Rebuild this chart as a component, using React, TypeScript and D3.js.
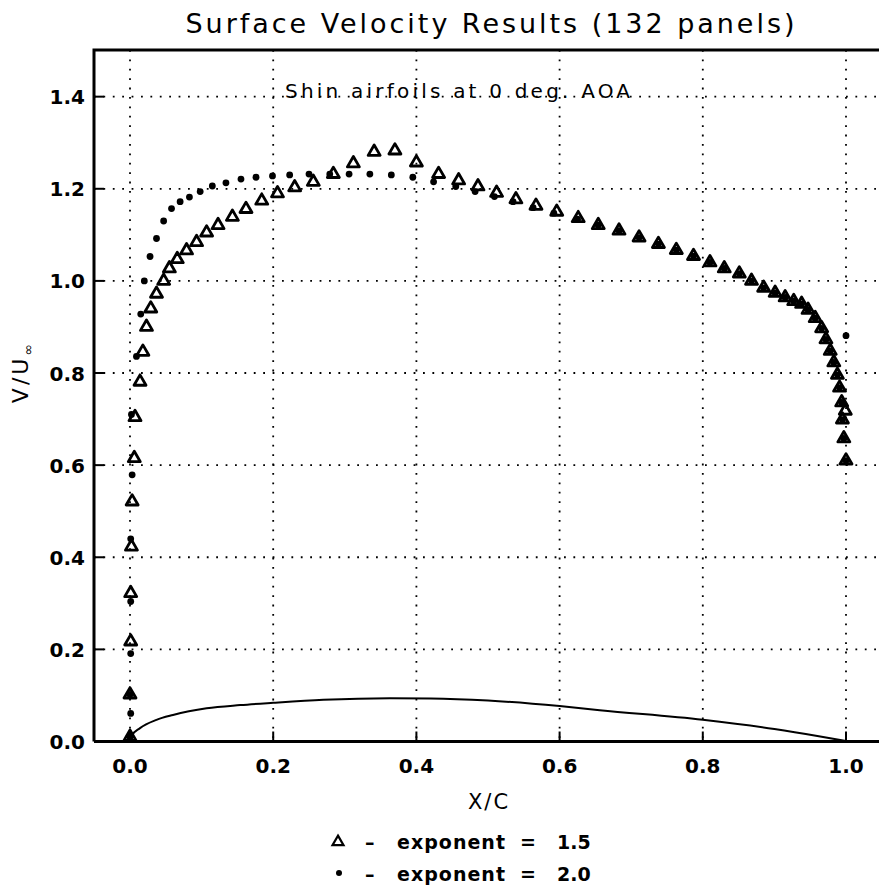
import React from "react";
import * as d3 from "d3";

// ---- data ----
const triX = [0.000, 0.000, 0.001, 0.001, 0.002, 0.003, 0.006, 0.007, 0.014, 0.018, 0.023, 0.029, 0.037, 0.047, 0.055, 0.066, 0.079, 0.093, 0.107, 0.123, 0.143, 0.162, 0.184, 0.206, 0.230, 0.256, 0.284, 0.312, 0.341, 0.370, 0.400, 0.431, 0.459, 0.486, 0.512, 0.539, 0.567, 0.596, 0.626, 0.654, 0.683, 0.711, 0.738, 0.763, 0.787, 0.810, 0.830, 0.851, 0.868, 0.885, 0.901, 0.915, 0.927, 0.938, 0.947, 0.957, 0.966, 0.972, 0.978, 0.983, 0.988, 0.991, 0.994, 0.999, 0.995, 0.997, 1.000];
const triV = [0.010, 0.102, 0.217, 0.322, 0.423, 0.521, 0.615, 0.704, 0.781, 0.846, 0.900, 0.940, 0.972, 1.000, 1.027, 1.047, 1.066, 1.084, 1.105, 1.121, 1.139, 1.156, 1.174, 1.190, 1.203, 1.215, 1.232, 1.255, 1.280, 1.283, 1.257, 1.232, 1.218, 1.205, 1.191, 1.177, 1.163, 1.150, 1.136, 1.121, 1.109, 1.094, 1.080, 1.067, 1.054, 1.040, 1.027, 1.016, 1.000, 0.985, 0.974, 0.964, 0.956, 0.950, 0.937, 0.919, 0.897, 0.873, 0.848, 0.823, 0.796, 0.768, 0.736, 0.718, 0.699, 0.658, 0.610];

const dotX = [0.000, 0.001, 0.000, 0.001, 0.001, 0.001, 0.003, 0.002, 0.009, 0.015, 0.020, 0.028, 0.037, 0.047, 0.058, 0.070, 0.083, 0.098, 0.115, 0.134, 0.155, 0.176, 0.199, 0.223, 0.250, 0.279, 0.306, 0.335, 0.365, 0.395, 0.424, 0.455, 0.482, 0.509, 0.535, 0.563, 0.592, 0.625, 0.654, 0.683, 0.711, 0.738, 0.763, 0.787, 0.810, 0.830, 0.851, 0.868, 0.885, 0.901, 0.915, 0.927, 0.938, 0.947, 0.957, 0.966, 0.972, 0.978, 0.983, 0.988, 0.991, 0.994, 0.995, 0.997, 1.000, 1.000];
const dotV = [0.010, 0.061, 0.102, 0.191, 0.304, 0.440, 0.579, 0.710, 0.836, 0.928, 1.000, 1.053, 1.092, 1.130, 1.157, 1.172, 1.182, 1.194, 1.206, 1.213, 1.221, 1.225, 1.228, 1.230, 1.232, 1.232, 1.232, 1.232, 1.230, 1.225, 1.215, 1.205, 1.194, 1.183, 1.172, 1.159, 1.147, 1.134, 1.121, 1.109, 1.094, 1.080, 1.067, 1.054, 1.040, 1.027, 1.016, 1.000, 0.985, 0.974, 0.964, 0.956, 0.950, 0.937, 0.919, 0.897, 0.873, 0.848, 0.823, 0.796, 0.768, 0.736, 0.699, 0.658, 0.610, 0.881];

const foilX = [0, 0.002, 0.014, 0.037, 0.06, 0.107, 0.154, 0.2, 0.27, 0.363, 0.42, 0.5, 0.6, 0.656, 0.8, 0.9, 0.96, 1.0];
const foilY = [0, 0.012, 0.029, 0.047, 0.0575, 0.072, 0.079, 0.084, 0.0905, 0.094, 0.0935, 0.089, 0.077, 0.068, 0.047, 0.027, 0.012, 0.001];

const xTicks = [0, 0.2, 0.4, 0.6, 0.8, 1.0];
const yTicks = [0.2, 0.4, 0.6, 0.8, 1.0, 1.2, 1.4];
const yLabelTicks = [0, 0.2, 0.4, 0.6, 0.8, 1.0, 1.2, 1.4];
const legendValues = ["1.5", "2.0"];

const W = 879, H = 888;
const left = 94, top = 50, bottom = 741.5, right = 881;

export default function App() {
  const x = d3.scaleLinear().domain([0, 1]).range([130, 846]);
  const y = d3.scaleLinear().domain([0, 1.5]).range([741.5, 50.6]);
  const fmt = d3.format(".1f");

  const foilLine = d3
    .line<number>()
    .x((_, i) => x(foilX[i]))
    .y((d) => y(d))
    .curve(d3.curveMonotoneX)(foilY) as string;

  const triPath = (side: number) => {
    const h = (side * Math.sqrt(3)) / 2;
    return `M0,${(-2 * h) / 3}L${side / 2},${h / 3}L${-side / 2},${h / 3}Z`;
  };
  const tri = triPath(12);

  const dotted = { stroke: "#000", strokeWidth: 1.8, strokeDasharray: "1.8 7.6", fill: "none" };
  const font = "'DejaVu Sans', sans-serif";

  return (
    <svg width={W} height={H} style={{ position: "absolute", left: 0, top: 0, background: "#fff" }}>
      <rect x={0} y={0} width={W} height={H} fill="#fff" />
      {/* title */}
      <text x={490} y={33} textAnchor="middle" fontFamily={font} fontSize={27} textLength={609} lengthAdjust="spacing">
        Surface Velocity Results (132 panels)
      </text>
      {/* grid */}
      {xTicks.map((t) => (
        <line key={"gx" + t} x1={x(t)} x2={x(t)} y1={top} y2={bottom} style={dotted} />
      ))}
      {yTicks.map((t) => (
        <line key={"gy" + t} x1={left} x2={W} y1={y(t)} y2={y(t)} style={dotted} />
      ))}
      {/* ticks */}
      {xTicks.map((t) => (
        <line key={"tx" + t} x1={x(t)} x2={x(t)} y1={bottom} y2={bottom - 10} stroke="#000" strokeWidth={2} />
      ))}
      {yTicks.map((t) => (
        <line key={"ty" + t} x1={left} x2={left + 10} y1={y(t)} y2={y(t)} stroke="#000" strokeWidth={2} />
      ))}
      {/* frame */}
      <path d={`M${left},${bottom}L${left},${top}L${right},${top}`} fill="none" stroke="#000" strokeWidth={3} />
      <line x1={left} x2={right} y1={bottom} y2={bottom} stroke="#000" strokeWidth={3} />
      {/* tick labels */}
      {xTicks.map((t) => (
        <text key={"lx" + t} x={x(t)} y={773} textAnchor="middle" fontFamily={font} fontWeight="bold" fontSize={20}>
          {fmt(t)}
        </text>
      ))}
      {yLabelTicks.map((t) => (
        <text key={"ly" + t} x={85} y={y(t) + 7.5} textAnchor="end" fontFamily={font} fontWeight="bold" fontSize={20}>
          {fmt(t)}
        </text>
      ))}
      {/* axis labels */}
      <text x={489} y={809} textAnchor="middle" fontFamily={font} fontSize={21} letterSpacing={2}>
        X/C
      </text>
      <text transform="translate(28,372) rotate(-90)" textAnchor="middle" fontFamily={font} fontSize={22} letterSpacing={3}>
        V/U<tspan fontSize={14} dy={5}>∞</tspan>
      </text>
      {/* annotation */}
      <text x={285} y={98} fontFamily={font} fontSize={20} textLength={345} lengthAdjust="spacing">
        Shin airfoils at 0 deg. AOA
      </text>
      {/* airfoil */}
      <path d={foilLine} fill="none" stroke="#000" strokeWidth={2} />
      {/* triangles */}
      {triV.map((v, i) => (
        <path key={"t" + i} d={tri} transform={`translate(${x(triX[i])},${y(v)})`} fill="none" stroke="#000" strokeWidth={2.8} strokeLinejoin="round" />
      ))}
      {/* dots */}
      {dotV.map((v, i) => (
        <circle key={"d" + i} cx={x(dotX[i])} cy={y(v)} r={3.4} fill="#000" />
      ))}
      {/* legend */}
      <path d={triPath(11)} transform="translate(338,842)" fill="none" stroke="#000" strokeWidth={2.2} />
      <circle cx={339} cy={873} r={3} fill="#000" />
      {legendValues.map((s, i) => (
        <g key={"leg" + i} fontFamily={font} fontWeight="bold" fontSize={19}>
          <text x={365} y={849 + i * 32}>–</text>
          <text x={397} y={849 + i * 32} textLength={108} lengthAdjust="spacing">exponent</text>
          <text x={520} y={849 + i * 32}>=</text>
          <text x={557} y={849 + i * 32}>{s}</text>
        </g>
      ))}
    </svg>
  );
}
